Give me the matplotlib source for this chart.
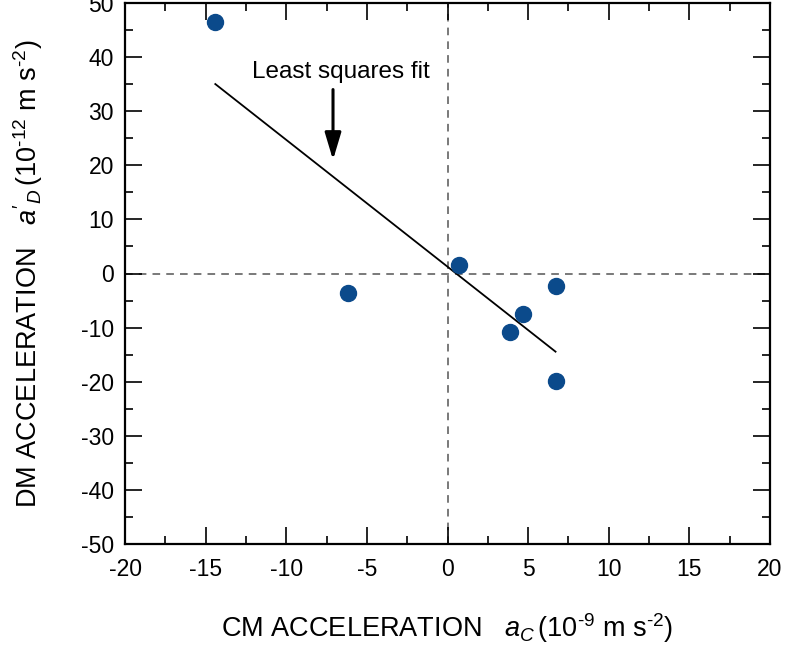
import numpy as np
import matplotlib.pyplot as plt
from matplotlib.ticker import MultipleLocator

plt.rcParams['font.family'] = ['Liberation Sans', 'DejaVu Sans']
plt.rcParams['mathtext.fontset'] = 'custom'
plt.rcParams['mathtext.rm'] = 'Liberation Sans'
plt.rcParams['mathtext.it'] = 'Liberation Sans:italic'
plt.rcParams['axes.unicode_minus'] = False

# CM acceleration (1e-9 m/s^2) and DM acceleration (1e-12 m/s^2)
cm_accel = [-14.4, -6.2, 0.7, 4.7, 3.9, 6.7, 6.7]
dm_accel = [46.5, -3.6, 1.6, -7.5, -10.9, -2.3, -19.9]

# Least squares fit over the range of the data
slope, intercept = np.polyfit(cm_accel, dm_accel, 1)
fit_x = np.array([min(cm_accel), max(cm_accel)])
fit_y = slope * fit_x + intercept

fig = plt.figure(figsize=(7.87, 6.52), dpi=100)
ax = fig.add_axes([125 / 787, 1 - 544 / 652, 645 / 787, 541 / 652])

ax.axhline(0, color='#555555', ls=(0, (5, 4)), lw=1.1, zorder=1)
ax.axvline(0, color='#555555', ls=(0, (5, 4)), lw=1.1, zorder=1)

ax.plot(fit_x, fit_y, color='black', lw=1.3, zorder=2)
ax.plot(cm_accel, dm_accel, 'o', color='#0b4a8b', markersize=11.5, zorder=3)

ax.annotate('', xy=(-7.1, 21.0), xytext=(-7.1, 34.0),
            arrowprops=dict(arrowstyle='-|>,head_length=1.1,head_width=0.33',
                            mutation_scale=15, color='black', lw=2.2,
                            shrinkA=0, shrinkB=0))
ax.text(-6.6, 37.3, 'Least squares fit', ha='center', va='center', fontsize=17.5)

ax.set_xlim(-20, 20)
ax.set_ylim(-50, 50)
ax.xaxis.set_major_locator(MultipleLocator(5))
ax.xaxis.set_minor_locator(MultipleLocator(2.5))
ax.yaxis.set_major_locator(MultipleLocator(10))
ax.yaxis.set_minor_locator(MultipleLocator(5))
ax.tick_params(which='both', direction='in', top=True, right=True,
               labelsize=16.5, width=1.2)
ax.tick_params(which='major', length=12)
ax.tick_params(which='minor', length=6)
ax.tick_params(axis='x', which='major', pad=10)
ax.tick_params(axis='y', which='major', pad=8)
for s in ax.spines.values():
    s.set_linewidth(1.6)

ax.set_xlabel(r'CM ACCELERATION   $a_C\,$(10$^{\text{-}9}$ m s$^{\text{-}2}$)',
              fontsize=19.5, labelpad=22)
ax.set_ylabel(r"DM ACCELERATION   $a'_D\,$(10$^{\text{-}12}$ m s$^{\text{-}2}$)",
              fontsize=19.5, labelpad=26)

fig.savefig('out.png', dpi=100)
